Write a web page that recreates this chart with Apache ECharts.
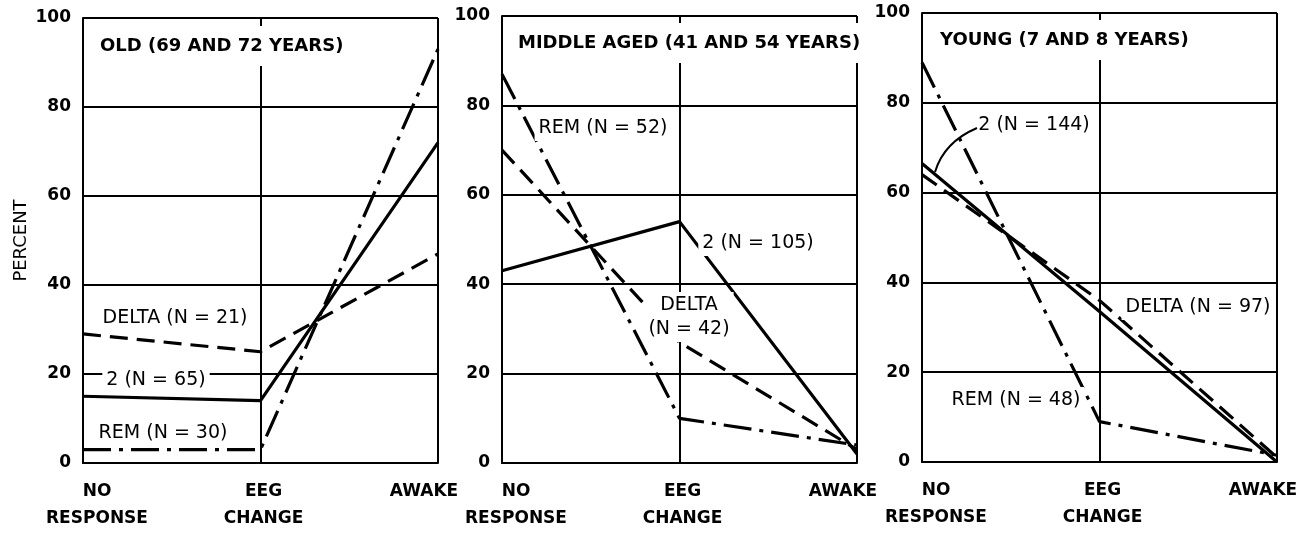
<!DOCTYPE html>
<html><head><meta charset="utf-8">
<script src="https://cdn.jsdelivr.net/npm/echarts@6/dist/echarts.min.js"></script>
<style>html,body{margin:0;padding:0;background:#fff}#c{width:1303px;height:534px}</style>
</head><body><div id="c"></div>
<script>
// ---- data ----
const categories = ['NO\nRESPONSE', 'EEG\nCHANGE', 'AWAKE'];
const panelTitles = ['OLD (69 AND 72 YEARS)', 'MIDDLE AGED (41 AND 54 YEARS)', 'YOUNG (7 AND 8 YEARS)'];
const yAxisName = 'PERCENT';
// Old (69 and 72 years)
const oldDelta = [29, 25, 47];
const oldStage2 = [15, 14, 72];
const oldRem = [3, 3, 93];
// Middle aged (41 and 54 years)
const midDelta = [70, 27, 3];
const midStage2 = [43, 54, 2];
const midRem = [87, 10, 4];
// Young (7 and 8 years)
const youngDelta = [64, 36, 1];
const youngStage2 = [66.5, 33.5, 0];
const youngRem = [89, 9, 1.5];
const annotationTexts = [
  ['DELTA (N = 21)', '2 (N = 65)', 'REM (N = 30)'],
  ['REM (N = 52)', '2 (N = 105)', 'DELTA\n(N = 42)'],
  ['2 (N = 144)', 'DELTA (N = 97)', 'REM (N = 48)']
];

// ---- layout / style ----
const FONT = 'DejaVu Sans';
const grids = [
  {left: 83, top: 18, width: 355, height: 445, outerBoundsMode: 'none', containLabel: false},
  {left: 502, top: 16, width: 355, height: 447, outerBoundsMode: 'none', containLabel: false},
  {left: 922, top: 13, width: 355, height: 449, outerBoundsMode: 'none', containLabel: false}
];
const labelShift = [14, 3, -14];
const lineDelta = {color: '#000', width: 3.2, type: [18, 9], cap: 'butt'};
const lineStage2 = {color: '#000', width: 3.2, type: 'solid'};
const lineRem = {color: '#000', width: 3.2, type: [28, 8, 4, 8], cap: 'butt'};

const panels = [
  {delta: oldDelta, s2: oldStage2, rem: oldRem},
  {delta: midDelta, s2: midStage2, rem: midRem},
  {delta: youngDelta, s2: youngStage2, rem: youngRem}
];

const xAxes = grids.map((g, i) => ({
  type: 'category', gridIndex: i, boundaryGap: false,
  data: categories.map((c, k) => {
    const s = labelShift[k];
    return {value: c, textStyle: {padding: s >= 0 ? [0, 0, 0, 2 * s] : [0, -2 * s, 0, 0]}};
  }),
  axisLine: {show: true, lineStyle: {color: '#000', width: 2}},
  axisTick: {show: false},
  axisLabel: {interval: 0, color: '#000', fontFamily: FONT, fontWeight: 'bold', fontSize: 17, lineHeight: 27, margin: 15},
  splitLine: {show: true, interval: 0, lineStyle: {color: '#000', width: 2}}
}));
const yAxes = grids.map((g, i) => ({
  type: 'value', gridIndex: i, min: 0, max: 100, interval: 20,
  name: i === 0 ? yAxisName : '', nameLocation: 'middle', nameRotate: 90, nameGap: 53,
  nameTextStyle: {color: '#000', fontFamily: FONT, fontSize: 18},
  axisLine: {show: true, lineStyle: {color: '#000', width: 2}},
  axisTick: {show: false},
  axisLabel: {color: '#000', fontFamily: FONT, fontWeight: 'bold', fontSize: 17, margin: 12},
  splitLine: {show: true, lineStyle: {color: '#000', width: 2}}
}));

const series = [];
panels.forEach((p, i) => {
  [['DELTA', p.delta, lineDelta], ['2', p.s2, lineStage2], ['REM', p.rem, lineRem]].forEach(([n, d, ls]) => {
    series.push({type: 'line', name: n, xAxisIndex: i, yAxisIndex: i, data: d,
      showSymbol: false, symbol: 'none', lineStyle: ls, z: 2, silent: true, animation: false});
  });
});

const titlePos = [{left: 92, top: 26}, {left: 510, top: 23}, {left: 932, top: 20}];
const titles = panelTitles.map((t, i) => ({
  text: t, left: titlePos[i].left, top: titlePos[i].top,
  backgroundColor: '#fff', padding: [10, 8],
  textStyle: {color: '#000', fontFamily: FONT, fontWeight: 'bold', fontSize: 18, lineHeight: 20}
}));

const annPos = [
  [[175, 318], [156, 380], [163, 433]],
  [[603, 128], [758, 243], [689, 317]],
  [[1034, 125], [1198, 307], [1016, 400]]
];
const graphics = [];
annotationTexts.forEach((row, i) => row.forEach((t, k) => {
  graphics.push({type: 'text', z: 100, x: annPos[i][k][0], y: annPos[i][k][1],
    style: {text: t, align: 'center', verticalAlign: 'middle', fill: '#000',
      font: '19px "DejaVu Sans"', lineHeight: 24, backgroundColor: '#fff', padding: [1, 4]}});
}));
graphics.push({type: 'bezierCurve', z: 100,
  shape: {x1: 935, y1: 172, cpx1: 944, cpy1: 142, x2: 977, y2: 128},
  style: {stroke: '#000', lineWidth: 2, fill: null}});

const chart = echarts.init(document.getElementById('c'), null, {renderer: 'canvas'});
chart.setOption({
  backgroundColor: '#fff', animation: false,
  title: titles,
  grid: grids,
  xAxis: xAxes, yAxis: yAxes,
  series: series,
  graphic: graphics
});
</script></body></html>
